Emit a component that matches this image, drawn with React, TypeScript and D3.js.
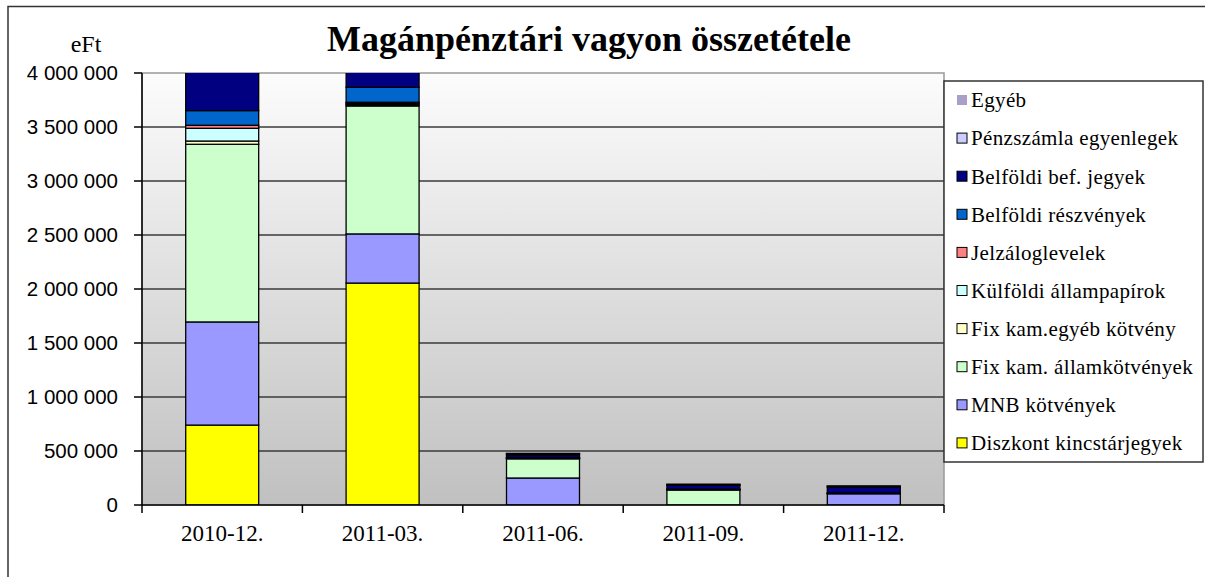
import React from "react";
import * as d3 from "d3";

const categories = ["2010-12.", "2011-03.", "2011-06.", "2011-09.", "2011-12."];
const seriesNames = [
  "Diszkont kincstárjegyek",
  "MNB kötvények",
  "Fix kam. államkötvények",
  "Fix kam.egyéb kötvény",
  "Külföldi állampapírok",
  "Jelzáloglevelek",
  "Belföldi részvények",
  "Belföldi bef. jegyek",
  "Pénzszámla egyenlegek",
  "Egyéb",
];
const seriesColors = [
  "#FFFF00", "#9999FF", "#CCFFCC", "#FFFFCC", "#CCFFFF",
  "#FF8080", "#0066CC", "#000080", "#CCCCFF", "#A99FC8",
];
const diszkont = [740000, 2055000, 0, 0, 0];
const mnb = [955000, 455000, 250000, 0, 105000];
const fixAllam = [1645000, 1185000, 178000, 140000, 0];
const fixEgyeb = [30000, 12000, 3000, 2000, 1000];
const kulfoldi = [118000, 12000, 2000, 1000, 1000];
const jelzalog = [28000, 10000, 2000, 1000, 1000];
const reszveny = [136000, 139000, 5000, 3000, 3000];
const befJegy = [620000, 420000, 25000, 35000, 55000];
const penzszamla = [60000, 40000, 10000, 8000, 8000];
const egyeb = [20000, 10000, 3000, 2000, 2000];
const seriesValues = [diszkont, mnb, fixAllam, fixEgyeb, kulfoldi, jelzalog, reszveny, befJegy, penzszamla, egyeb];
const yTicks = [0, 500000, 1000000, 1500000, 2000000, 2500000, 3000000, 3500000, 4000000];

const W = 1205, H = 577;
const left = 142, right = 944, top = 73, bottom = 505;

const fmt = (v: number) => String(v).replace(/\B(?=(\d{3})+(?!\d))/g, " ");

export default function App() {
  const x = d3.scaleBand<string>().domain(categories).range([left, right]).paddingInner(0.545).paddingOuter(0.2725);
  const y = d3.scaleLinear().domain([0, 4000000]).range([bottom, top]);
  const table = categories.map((c, i) => {
    const row: any = { cat: c };
    seriesNames.forEach((s, j) => (row[s] = seriesValues[j][i]));
    return row;
  });
  const stack = d3.stack<any>().keys(seriesNames)(table);
  const step = x.step();
  const boundaries = d3.range(categories.length + 1).map((i) => left + i * step);

  return (
    <svg width={W} height={H} style={{ position: "absolute", left: 0, top: 0, background: "#fff" }}>
      <defs>
        <linearGradient id="bg" x1="0" y1="0" x2="0" y2="1">
          <stop offset="0" stopColor="#FCFCFC" />
          <stop offset="1" stopColor="#C0C0C0" />
        </linearGradient>
        <clipPath id="plotclip">
          <rect x={left} y={top} width={right - left} height={bottom - top} />
        </clipPath>
      </defs>
      <rect x={8} y={6.5} width={1210} height={600} fill="#fff" stroke="#333" strokeWidth={1.5} />
      <text x={589} y={51} textAnchor="middle" fontFamily="Liberation Serif" fontWeight="bold" fontSize={36} fill="#000">
        Magánpénztári vagyon összetétele
      </text>
      <text x={86} y={52} textAnchor="middle" fontFamily="Liberation Serif" fontSize={24} fill="#000">eFt</text>
      <rect x={left} y={top} width={right - left} height={bottom - top} fill="url(#bg)" stroke="#999" strokeWidth={1.5} />
      {yTicks.filter((t) => t > 0 && t < 4000000).map((t) => (
        <line key={t} x1={left} x2={right} y1={y(t)} y2={y(t)} stroke="#3a3a3a" strokeWidth={1.5} />
      ))}
      <g clipPath="url(#plotclip)">
        {stack.map((layer, j) => (
          <g key={layer.key} fill={seriesColors[j]}>
            {layer.map((d, i) =>
              d[1] - d[0] > 0 ? (
                <rect
                  key={i}
                  x={x(categories[i])!}
                  y={y(d[1])}
                  width={x.bandwidth()}
                  height={y(d[0]) - y(d[1])}
                  stroke="#000"
                  strokeWidth={1.3}
                />
              ) : null
            )}
          </g>
        ))}
      </g>
      <line x1={left} x2={left} y1={top} y2={bottom} stroke="#000" strokeWidth={1.5} />
      <line x1={left} x2={right} y1={bottom} y2={bottom} stroke="#000" strokeWidth={1.5} />
      {yTicks.map((t) => (
        <g key={t}>
          <line x1={left - 8} x2={left} y1={y(t)} y2={y(t)} stroke="#000" strokeWidth={1.5} />
          <text x={118} y={y(t)} dy="0.35em" textAnchor="end" fontFamily="Liberation Sans" fontSize={20.5} fill="#000">
            {fmt(t)}
          </text>
        </g>
      ))}
      {boundaries.map((b, i) => (
        <line key={i} x1={b} x2={b} y1={bottom} y2={bottom + 8} stroke="#000" strokeWidth={1.5} />
      ))}
      {categories.map((c) => (
        <text key={c} x={x(c)! + x.bandwidth() / 2} y={541} textAnchor="middle" fontFamily="Liberation Serif" fontSize={23} fill="#000">
          {c}
        </text>
      ))}
      <rect x={944} y={81} width={259} height={381} fill="#fff" stroke="#333" strokeWidth={1.5} />
      {seriesNames.slice().reverse().map((s, k) => {
        const j = seriesNames.length - 1 - k;
        const cy = 100 + k * 38.1;
        return (
          <g key={s}>
            <rect x={957} y={cy - 5} width={10} height={10} fill={seriesColors[j]} stroke={s === "Egyéb" ? "none" : "#000"} strokeWidth={1} />
            <text x={971} y={cy} dy="0.35em" fontFamily="Liberation Serif" fontSize={21} letterSpacing={0.35} fill="#000">{s}</text>
          </g>
        );
      })}
    </svg>
  );
}
